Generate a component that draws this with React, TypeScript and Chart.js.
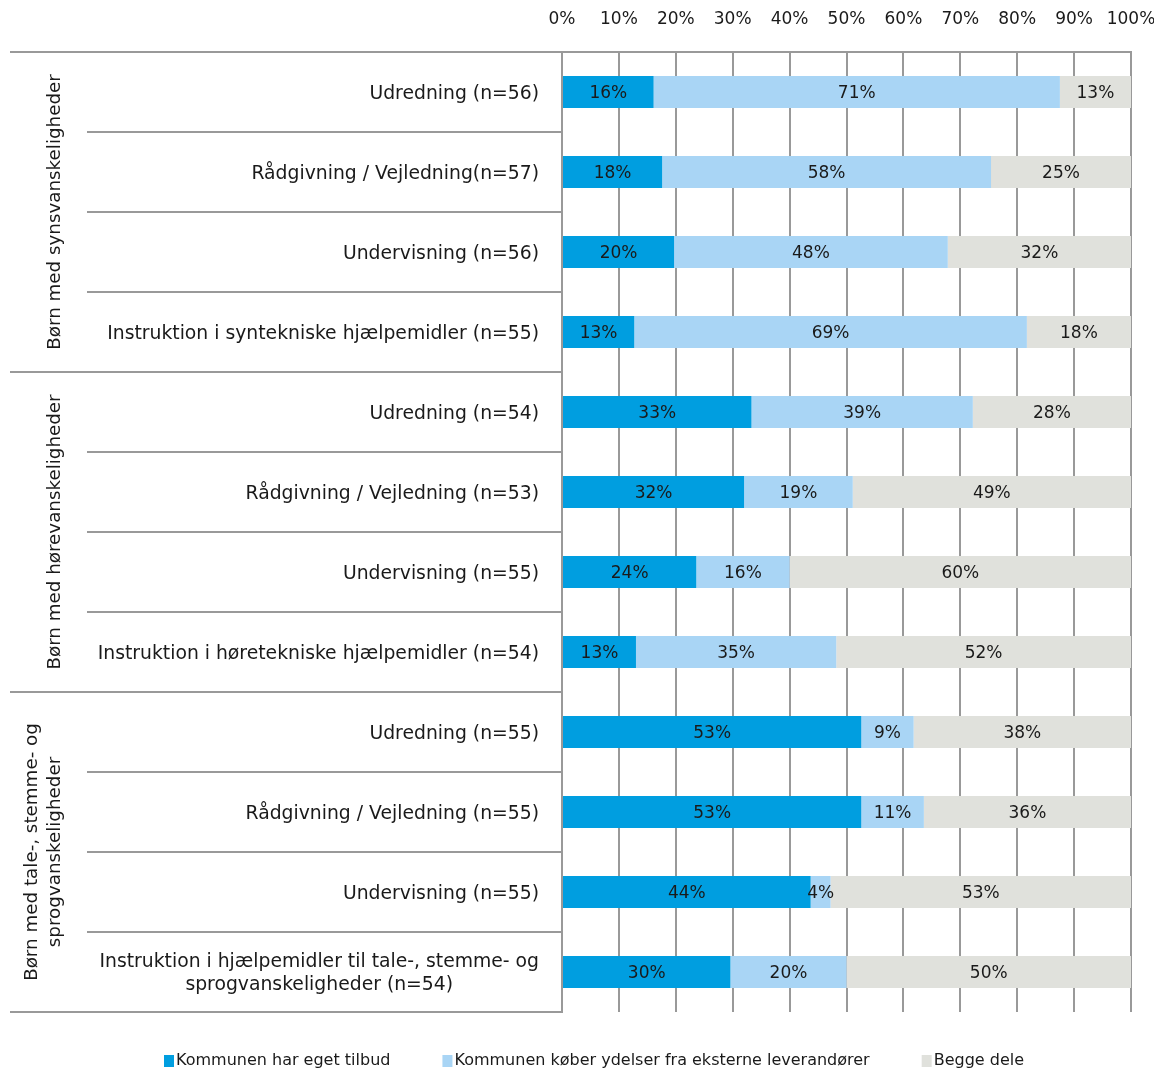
import React, { useEffect, useRef } from "react";
import { Chart, registerables } from "chart.js";

Chart.register(...registerables);

const FONT = '"DejaVu Sans", Verdana, sans-serif';

const categories: string[][] = [
  ["Udredning (n=56)"],
  ["Rådgivning / Vejledning(n=57)"],
  ["Undervisning (n=56)"],
  ["Instruktion i syntekniske hjælpemidler (n=55)"],
  ["Udredning (n=54)"],
  ["Rådgivning / Vejledning (n=53)"],
  ["Undervisning (n=55)"],
  ["Instruktion i høretekniske hjælpemidler (n=54)"],
  ["Udredning (n=55)"],
  ["Rådgivning / Vejledning (n=55)"],
  ["Undervisning (n=55)"],
  ["Instruktion i hjælpemidler til tale-, stemme- og", "sprogvanskeligheder (n=54)"],
];

const groupLabels: string[][] = [
  ["Børn med synsvanskeligheder"],
  ["Børn med hørevanskeligheder"],
  ["Børn med tale-, stemme- og", "sprogvanskeligheder"],
];
const groupSizes = [4, 4, 4];

const seriesNames = [
  "Kommunen har eget tilbud",
  "Kommunen køber ydelser fra eksterne leverandører",
  "Begge dele",
];

const ownOffer = [16.1, 17.6, 19.7, 12.7, 33.3, 32.0, 23.6, 13.0, 52.6, 52.6, 43.7, 29.6];
const external = [71.4, 57.8, 48.1, 69.0, 38.9, 19.1, 16.4, 35.2, 9.2, 11.0, 3.5, 20.4];
const both = [12.5, 24.6, 32.2, 18.3, 27.8, 48.9, 60.0, 51.8, 38.2, 36.4, 52.8, 50.0];

const xTickValues = [0, 10, 20, 30, 40, 50, 60, 70, 80, 90, 100];

const colors = ["#009EE0", "#A9D5F5", "#E0E1DC"];
const LINE = "#999999";

const decorPlugin = {
  id: "decor",
  afterDatasetsDraw(chart: any) {
    const ctx = chart.ctx as CanvasRenderingContext2D;
    ctx.save();
    ctx.font = `17px ${FONT}`;
    ctx.fillStyle = "#1a1a1a";
    ctx.textAlign = "center";
    ctx.textBaseline = "middle";
    chart.data.datasets.forEach((ds: any, di: number) => {
      const meta = chart.getDatasetMeta(di);
      meta.data.forEach((bar: any, i: number) => {
        const v = ds.data[i];
        const cx = (bar.x + bar.base) / 2;
        ctx.fillText(Math.round(v) + "%", cx, bar.y + 2);
      });
    });
    ctx.restore();
  },
  afterDraw(chart: any) {
    const ctx = chart.ctx as CanvasRenderingContext2D;
    const { left, right, top, bottom } = chart.chartArea;
    const yScale = chart.scales.y;
    const n = categories.length;

    ctx.save();
    ctx.strokeStyle = LINE;
    ctx.lineWidth = 2;
    const hline = (x0: number, x1: number, y: number) => {
      ctx.beginPath();
      ctx.moveTo(x0, y);
      ctx.lineTo(x1, y);
      ctx.stroke();
    };
    hline(2, right + 1, top);
    hline(2, left, bottom);
    const boundaries: number[] = [];
    let acc = 0;
    groupSizes.forEach((s) => {
      acc += s;
      boundaries.push(acc);
    });
    for (let i = 1; i < n; i++) {
      const yb = (yScale.getPixelForValue(i - 1) + yScale.getPixelForValue(i)) / 2;
      const isGroup = boundaries.includes(i);
      hline(isGroup ? 2 : 79, left, yb);
    }

    // category labels
    ctx.font = `18.8px ${FONT}`;
    ctx.fillStyle = "#1a1a1a";
    ctx.textAlign = "center";
    ctx.textBaseline = "middle";
    const labelRight = left - 23;
    categories.forEach((lines, i) => {
      const cy = yScale.getPixelForValue(i);
      const maxW = Math.max(...lines.map((l) => ctx.measureText(l).width));
      const cx = labelRight - maxW / 2;
      lines.forEach((l, k) => {
        ctx.fillText(l, cx, cy + (k - (lines.length - 1) / 2) * 23 + 2);
      });
    });

    // group labels (rotated)
    ctx.font = `18.3px ${FONT}`;
    let start = 0;
    groupLabels.forEach((lines, g) => {
      const end = start + groupSizes[g] - 1;
      const cy = (yScale.getPixelForValue(start) + yScale.getPixelForValue(end)) / 2;
      ctx.save();
      ctx.translate(47, cy);
      ctx.rotate(-Math.PI / 2);
      lines.forEach((l, k) => {
        ctx.fillText(l, 0, -(lines.length - 1 - k) * 23);
      });
      ctx.restore();
      start = end + 1;
    });

    // legend
    ctx.font = `16px ${FONT}`;
    ctx.textAlign = "left";
    ctx.textBaseline = "middle";
    const ly = 1053;
    let lx = 156;
    seriesNames.forEach((name, i) => {
      ctx.fillStyle = colors[i];
      ctx.fillRect(lx, ly - 6, 10, 12);
      ctx.fillStyle = "#1a1a1a";
      ctx.fillText(name, lx + 12, ly);
      lx += 12 + ctx.measureText(name).width + 52;
    });
    ctx.restore();
  },
};

export default function App() {
  const canvasRef = useRef<HTMLCanvasElement | null>(null);

  useEffect(() => {
    if (!canvasRef.current) return;
    const series = [ownOffer, external, both];
    const chart = new Chart(canvasRef.current, {
      type: "bar",
      data: {
        labels: categories.map((c) => c.join(" ")),
        datasets: series.map((data, i) => ({
          label: seriesNames[i],
          data,
          backgroundColor: colors[i],
          borderWidth: 0,
          barPercentage: 0.4,
          categoryPercentage: 1,
        })),
      },
      options: {
        indexAxis: "y",
        responsive: true,
        maintainAspectRatio: false,
        animation: false,
        layout: { padding: { left: 0, top: 0, right: 1, bottom: 59 } },
        plugins: {
          legend: { display: false },
          tooltip: { enabled: false },
        },
        scales: {
          x: {
            position: "top",
            stacked: true,
            min: 0,
            max: 100,
            afterBuildTicks: (scale: any) => {
              scale.ticks = xTickValues.map((v) => ({ value: v }));
            },
            ticks: {
              callback: (v: any) => v + "%",
              font: { family: FONT, size: 17 },
              color: "#1a1a1a",
              padding: 22,
              maxRotation: 0,
            },
            grid: { color: LINE, lineWidth: 2, drawTicks: false },
            border: { display: true, color: LINE, width: 2 },
            afterFit: (scale: any) => {
              scale.height = 44;
              scale.paddingRight = 23;
              scale.paddingLeft = 0;
            },
          },
          y: {
            stacked: true,
            ticks: { display: false },
            grid: { display: false },
            border: { display: true, color: LINE, width: 2 },
            afterFit: (scale: any) => {
              scale.width = 554;
            },
          },
        },
      },
      plugins: [decorPlugin],
    });
    return () => chart.destroy();
  }, []);

  return (
    <div style={{ position: "absolute", left: 8, top: 8, width: 1146, height: 1063 }}>
      <canvas ref={canvasRef} />
    </div>
  );
}
